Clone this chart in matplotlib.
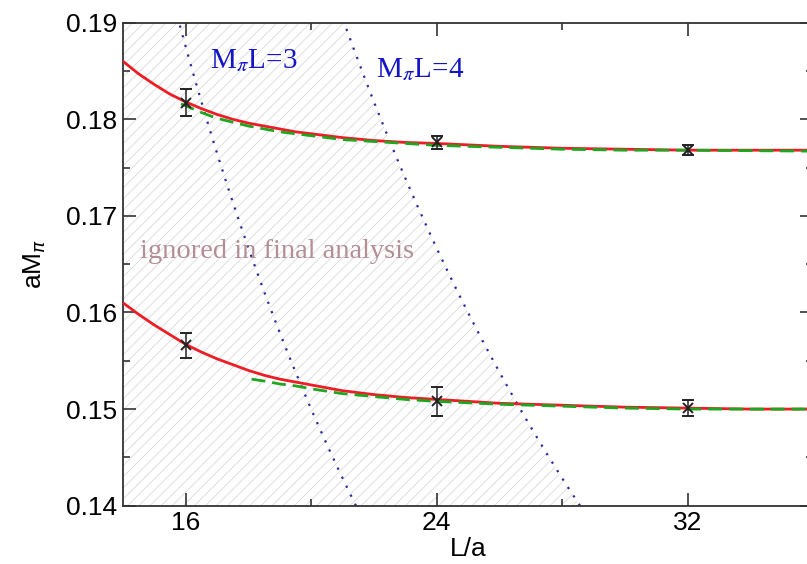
import numpy as np
import matplotlib.pyplot as plt

# lattice data: pion mass vs box size, two ensembles
L = [16, 24, 32]
upper_m = [0.1817, 0.1776, 0.1768]
upper_err = [0.0014, 0.0007, 0.0005]
lower_m = [0.1566, 0.1508, 0.1501]
lower_err = [0.0013, 0.0015, 0.0008]

# finite volume fit curves (red: full fit, green: restricted fit)
red_L = [14.0, 14.5, 15.0, 15.5, 16.0, 16.5, 17.0, 17.5, 18.0, 18.5, 19.0, 19.5,
         20.0, 21.0, 22.0, 23.0, 24.0, 26.0, 28.0, 30.0, 32.0, 34.0, 36.0]
red_upper = [0.1860, 0.1847, 0.1836, 0.1826, 0.1818, 0.1811, 0.1805, 0.1800,
             0.1796, 0.1793, 0.1790, 0.1787, 0.1785, 0.1781, 0.1778, 0.1776,
             0.1775, 0.1772, 0.1770, 0.1769, 0.1768, 0.1768, 0.1768]
red_lower = [0.1610, 0.1598, 0.1587, 0.1577, 0.1567, 0.1559, 0.1552, 0.1546,
             0.1540, 0.1535, 0.1531, 0.1528, 0.1525, 0.1519, 0.1515, 0.1512,
             0.1510, 0.1506, 0.1504, 0.1502, 0.1501, 0.1500, 0.1500]

green_L_upper = [15.85, 16.0, 16.5, 17.0, 17.5, 18.0, 18.5, 19.0, 19.5, 20.0,
                 21.0, 22.0, 23.0, 24.0, 26.0, 28.0, 30.0, 32.0, 36.0]
green_upper = [0.1816, 0.1814, 0.1807, 0.1801, 0.1797, 0.1793, 0.1790, 0.1787,
               0.1785, 0.1783, 0.1779, 0.1777, 0.1775, 0.1773, 0.1771, 0.1769,
               0.1768, 0.1768, 0.1767]
green_L_lower = [18.1, 18.5, 19.0, 19.5, 20.0, 21.0, 22.0, 23.0, 24.0, 26.0,
                 28.0, 30.0, 32.0, 36.0]
green_lower = [0.1531, 0.1529, 0.1526, 0.1524, 0.1521, 0.1516, 0.1513, 0.1510,
               0.1508, 0.1505, 0.1503, 0.1501, 0.1500, 0.1500]

# lines of constant M_pi * L
mpiL = [3, 4]

plt.rcParams['hatch.linewidth'] = 0.5

fig = plt.figure(figsize=(8.07, 5.64), dpi=100)
ax = fig.add_axes([0.1524, 0.1034, 0.855, 0.8564])

xmin, xmax = 14, 36
ymin, ymax = 0.14, 0.19

# hatched region left of M_pi L = 4
yy = np.linspace(ymin, ymax, 200)
ax.fill_betweenx(yy, xmin, mpiL[1] / yy, facecolor='none', edgecolor='#d2d2d2',
                 hatch='///', linewidth=0, zorder=0)

for n in mpiL:
    ax.plot(n / yy, yy, color='#2a2a9a', linestyle=(0, (1, 3.5)), linewidth=1.6, zorder=2)

ax.plot(red_L, red_upper, color='#ee1c24', linewidth=2, zorder=3)
ax.plot(red_L, red_lower, color='#ee1c24', linewidth=2, zorder=3)
ax.plot(green_L_upper, green_upper, color='#1fa51f', linewidth=2,
        linestyle=(0, (5, 2.5)), zorder=3)
ax.plot(green_L_lower, green_lower, color='#1fa51f', linewidth=2,
        linestyle=(0, (5, 2.5)), zorder=3)

for m, e in [(upper_m, upper_err), (lower_m, lower_err)]:
    ax.errorbar(L, m, yerr=e, fmt='x', color='#222222', markersize=7,
                markeredgewidth=1.4, elinewidth=1.1, capsize=4.5, capthick=1.1, zorder=4)

ax.text(16.77, 0.1853, r'M$_\pi$L=3', fontsize=21, color='#1515c8',
        family='Liberation Serif', math_fontfamily='stix', va='baseline')
ax.text(22.06, 0.1844, r'M$_\pi$L=4', fontsize=21, color='#1515c8',
        family='Liberation Serif', math_fontfamily='stix', va='baseline')
ax.text(14.53, 0.1656, 'ignored in final analysis', fontsize=20.5, color='#b48e96',
        family='Liberation Serif', va='baseline')

ax.set_xlim(xmin, xmax)
ax.set_ylim(ymin, ymax)
ax.set_xticks([16, 24, 32])
ax.set_xticks([20, 28], minor=True)
ax.set_yticks(np.arange(0.14, 0.191, 0.01))
ax.set_yticks(np.arange(0.145, 0.19, 0.01), minor=True)
ax.set_yticklabels(['0.14', '0.15', '0.16', '0.17', '0.18', '0.19'])

for s in ax.spines.values():
    s.set_linewidth(1.3)
    s.set_color('#333333')
ax.tick_params(which='both', direction='in', top=True, right=True, color='#333333',
               width=1.2, labelsize=19, labelcolor='black')
ax.tick_params(which='major', length=9.5, pad=4)
ax.tick_params(which='minor', length=5)
for lab in ax.get_xticklabels() + ax.get_yticklabels():
    lab.set_family('Liberation Sans')

ax.set_xlabel('L/a', fontsize=19, family='Liberation Sans', labelpad=1)
ax.set_ylabel(r'aM$_\pi$', fontsize=19, family='Liberation Sans',
              math_fontfamily='dejavusans', labelpad=13)

fig.savefig('out.png', dpi=100)
